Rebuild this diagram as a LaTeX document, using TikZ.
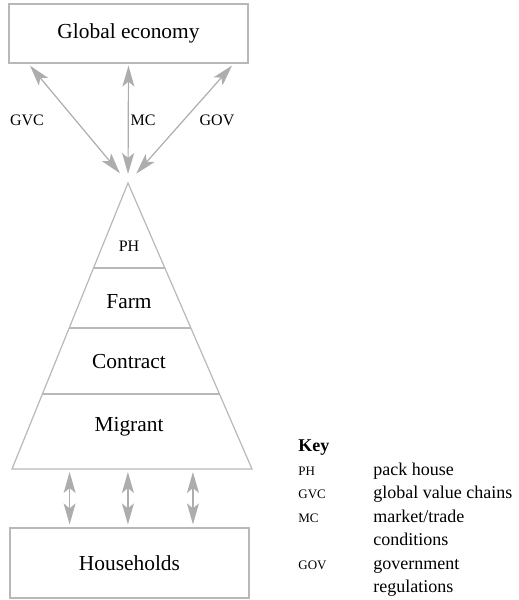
\documentclass[tikz,border=0pt]{standalone}
\usepackage{fontspec}
\setmainfont{Liberation Serif}
\usetikzlibrary{arrows.meta,calc}
\newcommand\keyabbr[1]{{\fontsize{6.5}{8}\selectfont #1}}

\begin{document}
\begin{tikzpicture}[x=0.5pt,y=-0.5pt,
  box/.style={draw=black!28,line width=0.6pt,minimum width=119.5pt,inner sep=0pt,font=\fontsize{10.7}{12}\selectfont},
  tri/.style={draw=black!28,line width=0.6pt},
  arr/.style={{Stealth[length=10.5pt,width=6pt,inset=2.5pt]}-{Stealth[length=10.5pt,width=6pt,inset=2.5pt]},draw=black!32,line width=0.6pt},
  lbl/.style={font=\fontsize{10.7}{12}\selectfont},
  abbr/.style={font=\fontsize{8}{10}\selectfont}
]
  \useasboundingbox (0,0) rectangle (519,600);
  \node[box,minimum height=29.5pt] (global) at (128.5,33.5) {Global economy};
  \node[box,minimum height=35pt] (households) at (129.5,563) {Households};
  % pyramid
  \coordinate (apex) at (128,183);
  \coordinate (bl) at (12,469);
  \coordinate (br) at (252,469);
  \draw[tri] (apex) -- (bl) -- (br) -- cycle;
  \foreach \t in {0.297,0.507,0.738}
    \draw[tri] ($(apex)!\t!(bl)$) -- ($(apex)!\t!(br)$);
  \node[abbr] (ph) at (129,246) {PH};
  \node[lbl] (farm) at (129,302) {Farm};
  \node[lbl] (contract) at (129,362) {Contract};
  \node[lbl] (migrant) at (129,427) {Migrant};
  % links to the global economy
  \foreach \dx/\s in {-49.25pt/6.3pt,0pt/4.5pt,51.75pt/6.2pt}
    \draw[arr,shorten >=\s] ([xshift=\dx,yshift=-1pt]global.south) -- (apex);
  \node[abbr] (gvc) at (27,120) {GVC};
  \node[abbr] (mc) at (143,120) {MC};
  \node[abbr] (gov) at (217,120) {GOV};
  % links to households
  \foreach \t [count=\i] in {0.24,0.483,0.754}{
    \coordinate (b\i) at ($(bl)!\t!(br)$);
    \draw[arr,shorten <=1.5pt,shorten >=1.5pt] (b\i) -- (b\i |- households.north);
  }
  % key
  \node[anchor=north west,inner sep=0pt,font=\fontsize{9}{11.75}\selectfont] (key) at (298,435) {%
    \begin{tabular}{@{}p{37.5pt}@{}l@{}}
      \textbf{Key} & \\
      \keyabbr{PH} & pack house\\
      \keyabbr{GVC} & global value chains\\
      \keyabbr{MC} & market/trade\\
       & conditions\\
      \keyabbr{GOV} & government\\
       & regulations
    \end{tabular}};
\end{tikzpicture}
\end{document}
